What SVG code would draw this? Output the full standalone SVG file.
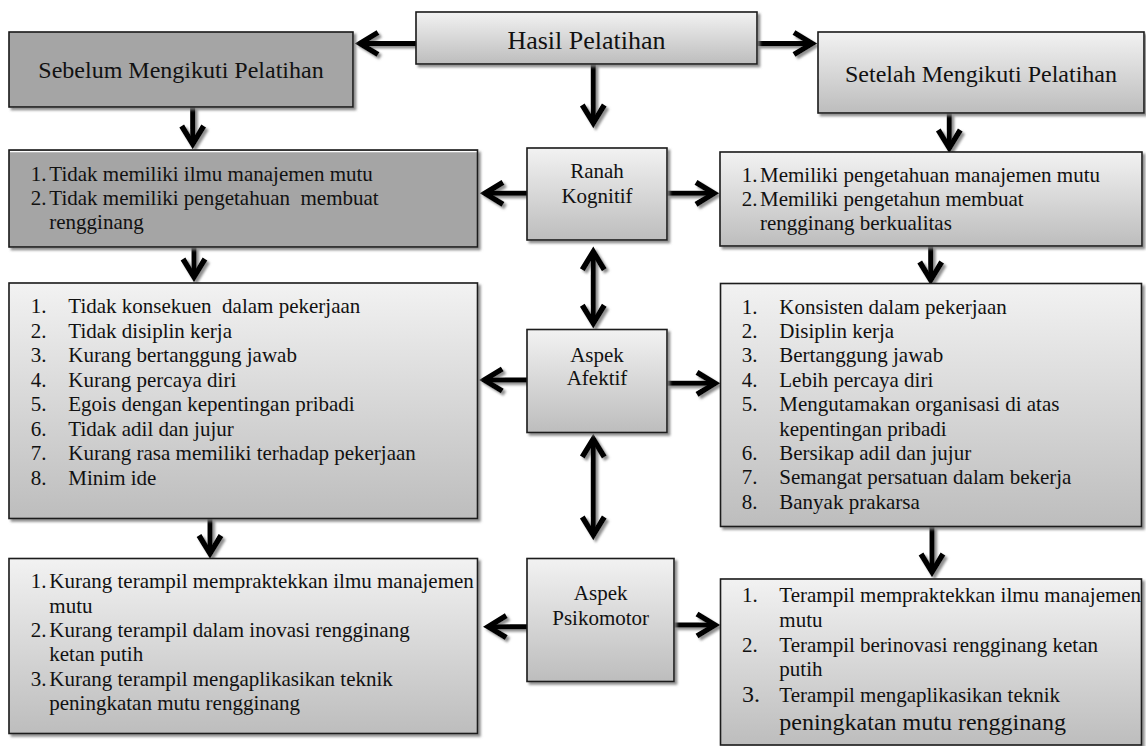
<svg xmlns="http://www.w3.org/2000/svg" width="1146" height="746" viewBox="0 0 1146 746">
<style>
.t{font-family:"Liberation Serif","Times New Roman",serif;font-size:21px;fill:#111;white-space:pre}
.c{text-anchor:middle}
.bx{stroke:#1a1a1a;stroke-width:1.6}
.lt{fill:url(#g)}
.dk{fill:#a5a5a5}
.cn{fill:none;stroke:#000;stroke-width:5;marker-end:url(#ah)}
.dbl{marker-start:url(#ah)}
</style>
<defs>
<linearGradient id="g" x1="0" y1="0" x2="0" y2="1">
<stop offset="0" stop-color="#f2f2f2"/>
<stop offset="1" stop-color="#bdbdbd"/>
</linearGradient>
<filter id="sh" x="-10%" y="-10%" width="130%" height="130%">
<feDropShadow dx="2.5" dy="2.5" stdDeviation="1" flood-color="#7a7a7a" flood-opacity="0.85"/>
</filter>
<marker id="ah" viewBox="-25 -15 35 30" markerWidth="35" markerHeight="30" refX="0" refY="0" orient="auto-start-reverse" markerUnits="userSpaceOnUse" overflow="visible">
<path d="M-17,-11 L1,0 L-17,11" fill="none" stroke="#000" stroke-width="5.5" stroke-linejoin="miter"/>
</marker>
<clipPath id="clipL4"><rect x="9" y="558.5" width="468.5" height="175"/></clipPath>
<clipPath id="clipR4"><rect x="720.5" y="579" width="421" height="166"/></clipPath>
</defs>
<rect width="1146" height="746" fill="#fff"/>

<g id="connectors" filter="url(#sh)">
<path class="cn" d="M416,43.5 H361"/>
<path class="cn" d="M757,43.5 H811"/>
<path class="cn" d="M593.3,64 V122"/>
<path class="cn" d="M192.7,107 V143"/>
<path class="cn" d="M949.3,113 V147"/>
<path class="cn" d="M527,193.3 H486"/>
<path class="cn" d="M667,193.3 H713"/>
<path class="cn dbl" d="M593.3,252.7 V322.3"/>
<path class="cn" d="M194,247 V276"/>
<path class="cn" d="M930.7,246 V279"/>
<path class="cn" d="M527,380 H485.3"/>
<path class="cn" d="M667,383.3 H714"/>
<path class="cn dbl" d="M593.3,440 V534"/>
<path class="cn" d="M210,518.5 V552.5"/>
<path class="cn" d="M932,526.5 V571"/>
<path class="cn" d="M527,626.7 H489.3"/>
<path class="cn" d="M674,625 H714"/>
</g>

<g id="hasil">
<rect class="bx lt" x="416" y="12" width="341" height="52" filter="url(#sh)"/>
<text class="t c" x="586.5" y="48.5" style="font-size:26px">Hasil Pelatihan</text>
</g>

<g id="sebelum">
<rect class="bx dk" x="9" y="32" width="344" height="75" filter="url(#sh)"/>
<text class="t c" x="181" y="78" style="font-size:24px">Sebelum Mengikuti Pelatihan</text>
</g>

<g id="setelah">
<rect class="bx lt" x="818" y="32" width="326" height="81" filter="url(#sh)"/>
<text class="t c" x="981" y="82" style="font-size:24px">Setelah Mengikuti Pelatihan</text>
</g>

<g id="sebelum-kognitif">
<rect class="bx dk" x="9" y="150" width="468.5" height="97" filter="url(#sh)"/>
<line x1="10" y1="151.6" x2="476.5" y2="151.6" stroke="#fff" stroke-width="1.4"/>
<text class="t" x="30.7" y="180.5">1.<tspan x="49.3">Tidak memiliki ilmu manajemen mutu</tspan></text>
<text class="t" x="30.7" y="204.5">2.<tspan x="49.3">Tidak memiliki pengetahuan  membuat</tspan></text>
<text class="t" x="49.3" y="228.5">rengginang</text>
</g>

<g id="ranah-kognitif">
<rect class="bx lt" x="527" y="148" width="140" height="92" filter="url(#sh)"/>
<text class="t c" x="597" y="178.3">Ranah</text>
<text class="t c" x="597" y="203.3">Kognitif</text>
</g>

<g id="setelah-kognitif">
<rect class="bx lt" x="720" y="152" width="422" height="94" filter="url(#sh)"/>
<text class="t" x="741.7" y="181.5">1.<tspan x="760">Memiliki pengetahuan manajemen mutu</tspan></text>
<text class="t" x="741.7" y="205.5">2.<tspan x="760">Memiliki pengetahun membuat</tspan></text>
<text class="t" x="760" y="229.5">rengginang berkualitas</text>
</g>

<g id="sebelum-afektif">
<rect class="bx lt" x="9" y="283" width="468.5" height="235.5" filter="url(#sh)"/>
<text class="t" x="30.7" y="313.3">1.<tspan x="68.3">Tidak konsekuen  dalam pekerjaan</tspan></text>
<text class="t" x="30.7" y="337.8">2.<tspan x="68.3">Tidak disiplin kerja</tspan></text>
<text class="t" x="30.7" y="362.3">3.<tspan x="68.3">Kurang bertanggung jawab</tspan></text>
<text class="t" x="30.7" y="386.8">4.<tspan x="68.3">Kurang percaya diri</tspan></text>
<text class="t" x="30.7" y="411.3">5.<tspan x="68.3">Egois dengan kepentingan pribadi</tspan></text>
<text class="t" x="30.7" y="435.8">6.<tspan x="68.3">Tidak adil dan jujur</tspan></text>
<text class="t" x="30.7" y="460.3">7.<tspan x="68.3">Kurang rasa memiliki terhadap pekerjaan</tspan></text>
<text class="t" x="30.7" y="484.8">8.<tspan x="68.3">Minim ide</tspan></text>
</g>

<g id="aspek-afektif">
<rect class="bx lt" x="527" y="329.5" width="140" height="103" filter="url(#sh)"/>
<text class="t c" x="597" y="361.7">Aspek</text>
<text class="t c" x="597" y="385">Afektif</text>
</g>

<g id="setelah-afektif">
<rect class="bx lt" x="720.5" y="283.5" width="421" height="243" filter="url(#sh)"/>
<text class="t" x="741.7" y="313.5">1.<tspan x="779.3">Konsisten dalam pekerjaan</tspan></text>
<text class="t" x="741.7" y="337.9">2.<tspan x="779.3">Disiplin kerja</tspan></text>
<text class="t" x="741.7" y="362.3">3.<tspan x="779.3">Bertanggung jawab</tspan></text>
<text class="t" x="741.7" y="386.7">4.<tspan x="779.3">Lebih percaya diri</tspan></text>
<text class="t" x="741.7" y="411.1">5.<tspan x="779.3">Mengutamakan organisasi di atas</tspan></text>
<text class="t" x="779.3" y="435.5">kepentingan pribadi</text>
<text class="t" x="741.7" y="459.9">6.<tspan x="779.3">Bersikap adil dan jujur</tspan></text>
<text class="t" x="741.7" y="484.3">7.<tspan x="779.3">Semangat persatuan dalam bekerja</tspan></text>
<text class="t" x="741.7" y="508.7">8.<tspan x="779.3">Banyak prakarsa</tspan></text>
</g>

<g id="sebelum-psikomotor">
<rect class="bx lt" x="9" y="558.5" width="468.5" height="175" filter="url(#sh)"/>
<g clip-path="url(#clipL4)">
<text class="t" x="30.7" y="588.3">1.<tspan x="49.3">Kurang terampil mempraktekkan ilmu manajemen</tspan></text>
<text class="t" x="49.3" y="612.6">mutu</text>
<text class="t" x="30.7" y="637">2.<tspan x="49.3">Kurang terampil dalam inovasi rengginang</tspan></text>
<text class="t" x="49.3" y="661.4">ketan putih</text>
<text class="t" x="30.7" y="685.8">3.<tspan x="49.3">Kurang terampil mengaplikasikan teknik</tspan></text>
<text class="t" x="49.3" y="710.2">peningkatan mutu rengginang</text>
</g>
</g>

<g id="aspek-psikomotor">
<rect class="bx lt" x="527" y="558.5" width="147" height="123" filter="url(#sh)"/>
<text class="t c" x="600.7" y="600">Aspek</text>
<text class="t c" x="600.7" y="625">Psikomotor</text>
</g>

<g id="setelah-psikomotor">
<rect class="bx lt" x="720.5" y="579" width="421" height="166" filter="url(#sh)"/>
<g clip-path="url(#clipR4)">
<text class="t" x="742" y="601.7">1.<tspan x="779.3">Terampil mempraktekkan ilmu manajemen</tspan></text>
<text class="t" x="779.3" y="626.7">mutu</text>
<text class="t" x="742" y="651.7">2.<tspan x="779.3">Terampil berinovasi rengginang ketan</tspan></text>
<text class="t" x="779.3" y="676.3">putih</text>
<text class="t" x="742" y="701.7" style="font-size:24px">3.</text>
<text class="t" x="779.3" y="701.7">Terampil mengaplikasikan teknik</text>
<text class="t" x="779.3" y="730" style="font-size:24px">peningkatan mutu rengginang</text>
</g>
</g>
</svg>
